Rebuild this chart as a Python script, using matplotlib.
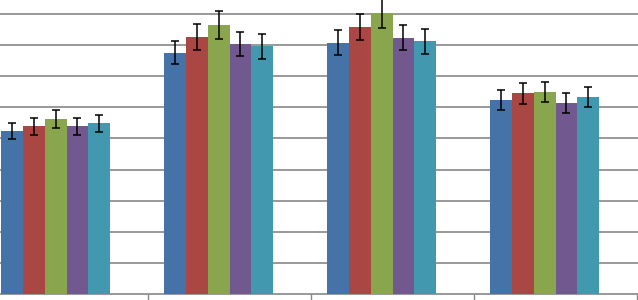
import numpy as np
import matplotlib
matplotlib.use("Agg")
import matplotlib.pyplot as plt

# --- Data (one gridline = 1 unit) ---
groups = ["A", "B", "C", "D"]
series_colors = ["#4572A7", "#AA4643", "#89A54E", "#71588F", "#4198AF"]

values = [
    [5.24, 5.39, 5.63, 5.39, 5.49],
    [7.76, 8.26, 8.65, 8.04, 7.96],
    [8.08, 8.59, 9.03, 8.24, 8.13],
    [6.25, 6.45, 6.50, 6.15, 6.33],
]
errors = [
    [0.27, 0.28, 0.29, 0.27, 0.28],
    [0.38, 0.42, 0.44, 0.40, 0.40],
    [0.40, 0.42, 0.47, 0.41, 0.40],
    [0.32, 0.33, 0.33, 0.32, 0.32],
]

vals = np.array(values)
errs = np.array(errors)
x = np.arange(len(groups))

# six slots per category (last one empty), gap width 150%
n_slots = 6
width = 1 / 7.5

fig = plt.figure(figsize=(6.38, 3.0), dpi=100)
ax = fig.add_axes([0, 0, 1, 1])

for i, col in enumerate(series_colors):
    ax.bar(x + (i - (n_slots - 1) / 2) * width, vals[:, i], width,
           color=col, yerr=errs[:, i], zorder=3,
           error_kw=dict(ecolor="black", elinewidth=1.1, capsize=3.2, capthick=1.1))

# --- Axes styling ---
ax.set_xlim(-0.408, 3.506)
ax.set_ylim(-0.193, 9.453)
ax.set_yticks(np.arange(1, 10))
ax.yaxis.grid(True, color="#878787", linewidth=1.2, zorder=0)
ax.tick_params(axis="y", length=0, labelleft=False)
ax.set_xticks(x + 0.5)
ax.tick_params(axis="x", direction="out", length=6, width=1, color="#878787",
               labelbottom=False)
for s in ["left", "right", "top"]:
    ax.spines[s].set_visible(False)
ax.spines["bottom"].set_position(("data", 0))
ax.spines["bottom"].set_color("#878787")
ax.spines["bottom"].set_linewidth(1.2)
ax.set_axisbelow(True)

plt.savefig("out.png", dpi=100)
plt.close()
